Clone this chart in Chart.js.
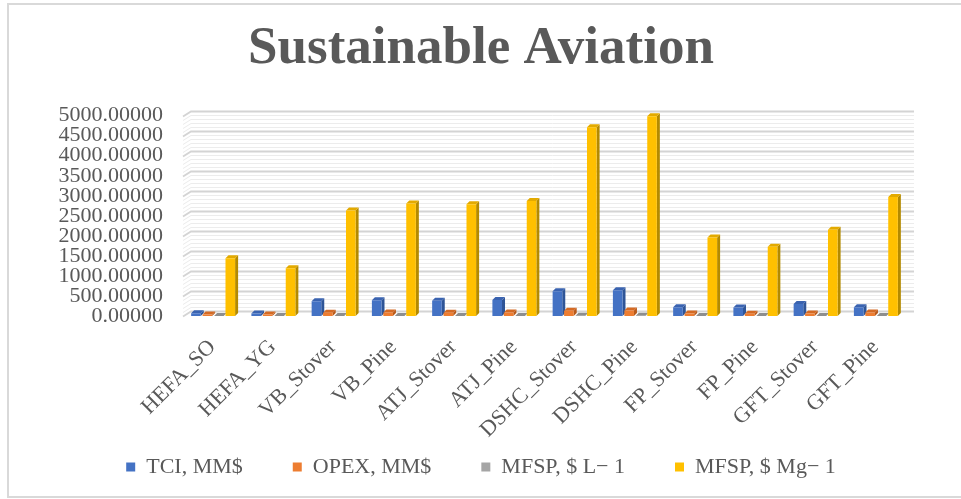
<!DOCTYPE html>
<html>
<head>
<meta charset="utf-8">
<script src="https://cdn.jsdelivr.net/npm/chart.js@4/dist/chart.umd.min.js"></script>
<style>
  html, body { margin: 0; padding: 0; background: #ffffff; }
  #wrap { width: 961px; height: 499px; position: relative; }
</style>
</head>
<body>
<div id="wrap"><canvas id="c" width="961" height="499"></canvas></div>
<script>
// ---- data ----
const categories = ['HEFA_SO','HEFA_YG','VB_Stover','VB_Pine','ATJ_Stover','ATJ_Pine','DSHC_Stover','DSHC_Pine','FP_Stover','FP_Pine','GFT_Stover','GFT_Pine'];
const seriesNames = ['TCI, MM$', 'OPEX, MM$', 'MFSP, $ L\u2212 1', 'MFSP, $ Mg\u2212 1'];
const tciValues = [70, 60, 370, 390, 380, 400, 620, 640, 220, 210, 300, 220];
const opexValues = [40, 35, 80, 90, 80, 90, 130, 140, 60, 55, 60, 90];
const mfspLValues = [1.14, 0.94, 2.08, 2.23, 2.22, 2.28, 3.76, 3.98, 1.56, 1.38, 1.71, 2.37];
const mfspMgValues = [1440, 1190, 2630, 2810, 2790, 2870, 4710, 4985, 1960, 1730, 2150, 2970];
const yTickMin = 0;
const yTickMax = 5000;
const yTickStep = 500;

// ---- styles ----
const SERIF = '"Liberation Serif", "Times New Roman", serif';
Chart.defaults.font.family = SERIF;
const frontColors = ['#4472C4', '#ED7D31', '#A5A5A5', '#FFC000'];
const sideColors  = ['#2F5597', '#B85A1B', '#7F7F7F', '#B38A00'];
const topColors   = ['#3A63B0', '#D46A24', '#8E8E8E', '#E3AA00'];
const textColor = '#595959';
const DX = 3, DY = 3;         // bar depth offset
const WX = 8, WY = 5;         // back wall offset

const borderPlugin = {
  id: 'outerBorder',
  beforeDraw(chart) {
    const ctx = chart.ctx;
    ctx.save();
    ctx.fillStyle = '#ffffff';
    ctx.fillRect(0, 0, chart.width, chart.height);
    ctx.strokeStyle = '#d9d9d9';
    ctx.lineWidth = 2;
    ctx.beginPath();
    ctx.moveTo(970, 4); ctx.lineTo(8, 4); ctx.lineTo(8, 497); ctx.lineTo(970, 497);
    ctx.stroke();
    ctx.restore();
  }
};

const wallPlugin = {
  id: 'wall3d',
  beforeDatasetsDraw(chart) {
    const ctx = chart.ctx;
    const y = chart.scales.y;
    const area = chart.chartArea;
    ctx.save();
    for (let pass = 0; pass < 2; pass++) {
      for (let v = yTickMin; v <= yTickMax; v += yTickStep / 5) {
        const major = (v % yTickStep) === 0;
        if ((pass === 0) === major) continue;
        const py = Math.round(y.getPixelForValue(v)) + 0.5;
        ctx.strokeStyle = major ? '#d4d4d4' : '#ececec';
        ctx.lineWidth = major ? 1.8 : 1;
        ctx.beginPath();
        ctx.moveTo(area.left, py);
        ctx.lineTo(area.left + WX, py - WY);
        ctx.lineTo(area.right + WX, py - WY);
        ctx.stroke();
      }
    }
    chart.data.datasets.forEach((ds, di) => {
      const meta = chart.getDatasetMeta(di);
      if (meta.hidden) return;
      meta.data.forEach((bar) => {
        const p = bar.getProps(['x', 'y', 'base', 'width'], true);
        const l = p.x - p.width / 2, r = p.x + p.width / 2;
        const t = Math.min(p.y, p.base), b = p.base;
        ctx.fillStyle = sideColors[di];
        ctx.beginPath();
        ctx.moveTo(r, t); ctx.lineTo(r + DX, t - DY); ctx.lineTo(r + DX, b - DY); ctx.lineTo(r, b);
        ctx.closePath(); ctx.fill();
        ctx.fillStyle = topColors[di];
        ctx.beginPath();
        ctx.moveTo(l, t); ctx.lineTo(l + DX, t - DY); ctx.lineTo(r + DX, t - DY); ctx.lineTo(r, t);
        ctx.closePath(); ctx.fill();
      });
    });
    ctx.restore();
  }
};

const valueLists = [tciValues, opexValues, mfspLValues, mfspMgValues];
const datasets = seriesNames.map((name, i) => ({
  label: name,
  data: valueLists[i],
  backgroundColor: frontColors[i],
  borderWidth: 0,
  categoryPercentage: 0.76,
  barPercentage: 0.84
}));

new Chart(document.getElementById('c'), {
  type: 'bar',
  data: { labels: categories, datasets: datasets },
  options: {
    responsive: false,
    animation: false,
    devicePixelRatio: 1,
    layout: { padding: { left: 56, right: 55, top: 0, bottom: 11 } },
    plugins: {
      title: {
        display: true,
        text: 'Sustainable Aviation',
        color: textColor,
        font: { family: SERIF, size: 53, weight: 'bold' },
        padding: { top: 18, bottom: 34 }
      },
      legend: {
        position: 'bottom',
        labels: {
          color: textColor,
          font: { family: SERIF, size: 22 },
          boxWidth: 9,
          boxHeight: 9,
          padding: 50
        }
      },
      tooltip: { enabled: false }
    },
    scales: {
      x: {
        grid: { display: false },
        border: { display: false },
        ticks: {
          color: textColor,
          font: { family: SERIF, size: 22 },
          minRotation: 45,
          maxRotation: 45,
          autoSkip: false,
          mirror: true,
          padding: -37,
          labelOffset: 18
        },
        afterFit(scale) { scale.height = 90; }
      },
      y: {
        min: yTickMin,
        max: yTickMax,
        grid: { display: false, drawTicks: false },
        border: { display: false },
        ticks: {
          stepSize: yTickStep,
          autoSkip: false,
          color: textColor,
          font: { family: SERIF, size: 22 },
          padding: 20,
          callback: (v) => Number(v).toFixed(5)
        },
        afterFit(scale) { scale.width = 127; }
      }
    }
  },
  plugins: [borderPlugin, wallPlugin]
});
</script>
</body>
</html>
